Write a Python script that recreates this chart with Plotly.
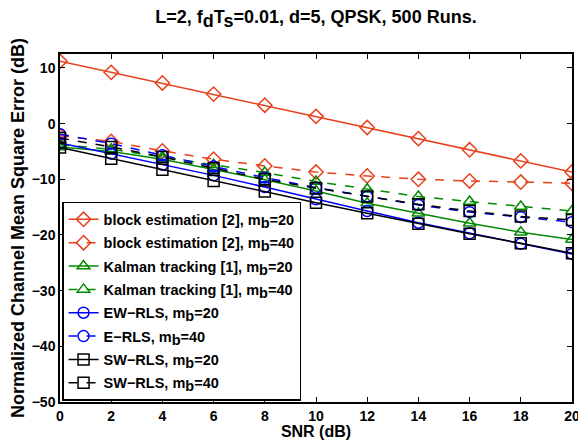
import plotly.graph_objects as go

snr = [0, 2, 4, 6, 8, 10, 12, 14, 16, 18, 20]

block_20 = [11.2, 9.2, 7.3, 5.3, 3.3, 1.3, -0.7, -2.7, -4.7, -6.7, -8.7]
block_40 = [-2.2, -3.2, -4.9, -6.4, -7.6, -8.7, -9.4, -10.0, -10.3, -10.5, -10.7]
kalman_20 = [-4.2, -5.0, -6.4, -8.2, -10.1, -12.1, -14.3, -16.1, -17.9, -19.5, -20.8]
kalman_40 = [-3.8, -4.6, -6.0, -7.4, -8.8, -10.4, -11.8, -13.1, -14.0, -14.9, -15.7]
ewrls_20 = [-3.5, -5.4, -7.4, -9.3, -11.4, -13.6, -15.7, -17.8, -19.7, -21.6, -23.4]
erls_40 = [-1.9, -3.6, -5.7, -7.7, -9.7, -11.5, -13.1, -14.6, -15.9, -16.8, -17.7]
swrls_20 = [-4.3, -6.3, -8.3, -10.3, -12.2, -14.2, -16.1, -18.0, -19.8, -21.5, -23.3]
swrls_40 = [-2.6, -4.2, -6.0, -8.0, -10.0, -11.6, -13.1, -14.5, -15.7, -16.7, -17.3]

x_ticks = [0, 2, 4, 6, 8, 10, 12, 14, 16, 18, 20]
y_ticks = [-50, -40, -30, -20, -10, 0, 10]
y_ticktext = ["\u221250", "\u221240", "\u221230", "\u221220", "\u221210", "0", "10"]

def sub(t, size):
    return f"<sub><span style='font-size:{size}px'>{t}</span></sub>"

LEG = 14.5
names = [
    f"block estimation [2], m{sub('b', LEG)}=20",
    f"block estimation [2], m{sub('b', LEG)}=40",
    f"Kalman tracking [1], m{sub('b', LEG)}=20",
    f"Kalman tracking [1], m{sub('b', LEG)}=40",
    f"EW\u2212RLS, m{sub('b', LEG)}=20",
    f"E\u2212RLS, m{sub('b', LEG)}=40",
    f"SW\u2212RLS, m{sub('b', LEG)}=20",
    f"SW\u2212RLS, m{sub('b', LEG)}=40",
]
series = [block_20, block_40, kalman_20, kalman_40, ewrls_20, erls_40, swrls_20, swrls_40]
colors = ["#e8401c", "#e8401c", "#008a00", "#008a00", "#0000ff", "#0000ff", "#000000", "#000000"]
symbols = ["diamond-open", "diamond-open", "triangle-up-open", "triangle-up-open",
           "circle-open", "circle-open", "square-open", "square-open"]
dashes = ["solid", "dash"] * 4

FONT = "Liberation Sans, Arial, sans-serif"

fig = go.Figure()
for i, (name, ys, c, s, d) in enumerate(zip(names, series, colors, symbols, dashes)):
    fig.add_trace(go.Scatter(
        x=snr, y=ys, name=name, mode="lines+markers", legendgroup=f"g{i}",
        line=dict(color=c, width=1.5, dash=d),
        marker=dict(symbol=s, size=11, color=c, line=dict(color=c, width=1.5)),
    ))

TT = 18
fig.update_layout(
    width=578, height=440,
    margin=dict(l=60, r=6, t=54, b=38, autoexpand=False),
    paper_bgcolor="white", plot_bgcolor="white",
    font=dict(family=FONT, size=13, color="black", weight="bold"),
    title=dict(text=f"L=2, f{sub('d', TT)}T{sub('s', TT)}=0.01, d=5, QPSK, 500 Runs.",
               xref="paper", x=0.5, xanchor="center", y=0.962, yanchor="middle",
               font=dict(family=FONT, size=TT, weight="bold")),
    showlegend=True,
    legend=dict(x=0.004, y=0.575, xanchor="left", yanchor="top",
                bgcolor="white", bordercolor="black", borderwidth=1.5,
                font=dict(family=FONT, size=LEG, weight="bold"),
                itemwidth=30, tracegroupgap=1.5),
)
fig.update_xaxes(
    range=[0, 20], tickvals=x_ticks, automargin=False, ticklabeloverflow="allow",
    ticks="inside", ticklen=5, tickcolor="black", mirror="ticks",
    showline=True, linecolor="black", linewidth=1.5, showgrid=False, zeroline=False,
    tickfont=dict(family=FONT, size=14, weight="bold"),
    title=dict(text="SNR (dB)", font=dict(family=FONT, size=16, weight="bold"), standoff=0),
)
fig.update_yaxes(
    range=[-50, 12.5], tickvals=y_ticks, ticktext=y_ticktext, automargin=False,
    ticklabeloverflow="allow",
    ticks="inside", ticklen=5, tickcolor="black", mirror="ticks",
    showline=True, linecolor="black", linewidth=1.5, showgrid=False, zeroline=False,
    tickfont=dict(family=FONT, size=14, weight="bold"),
    title=dict(text="Normalized Channel Mean Square Error (dB)",
               font=dict(family=FONT, size=18, weight="bold"), standoff=2),
)

fig.write_html("out.html", config={"displayModeBar": False},
               post_script="document.body.style.margin='0';")
